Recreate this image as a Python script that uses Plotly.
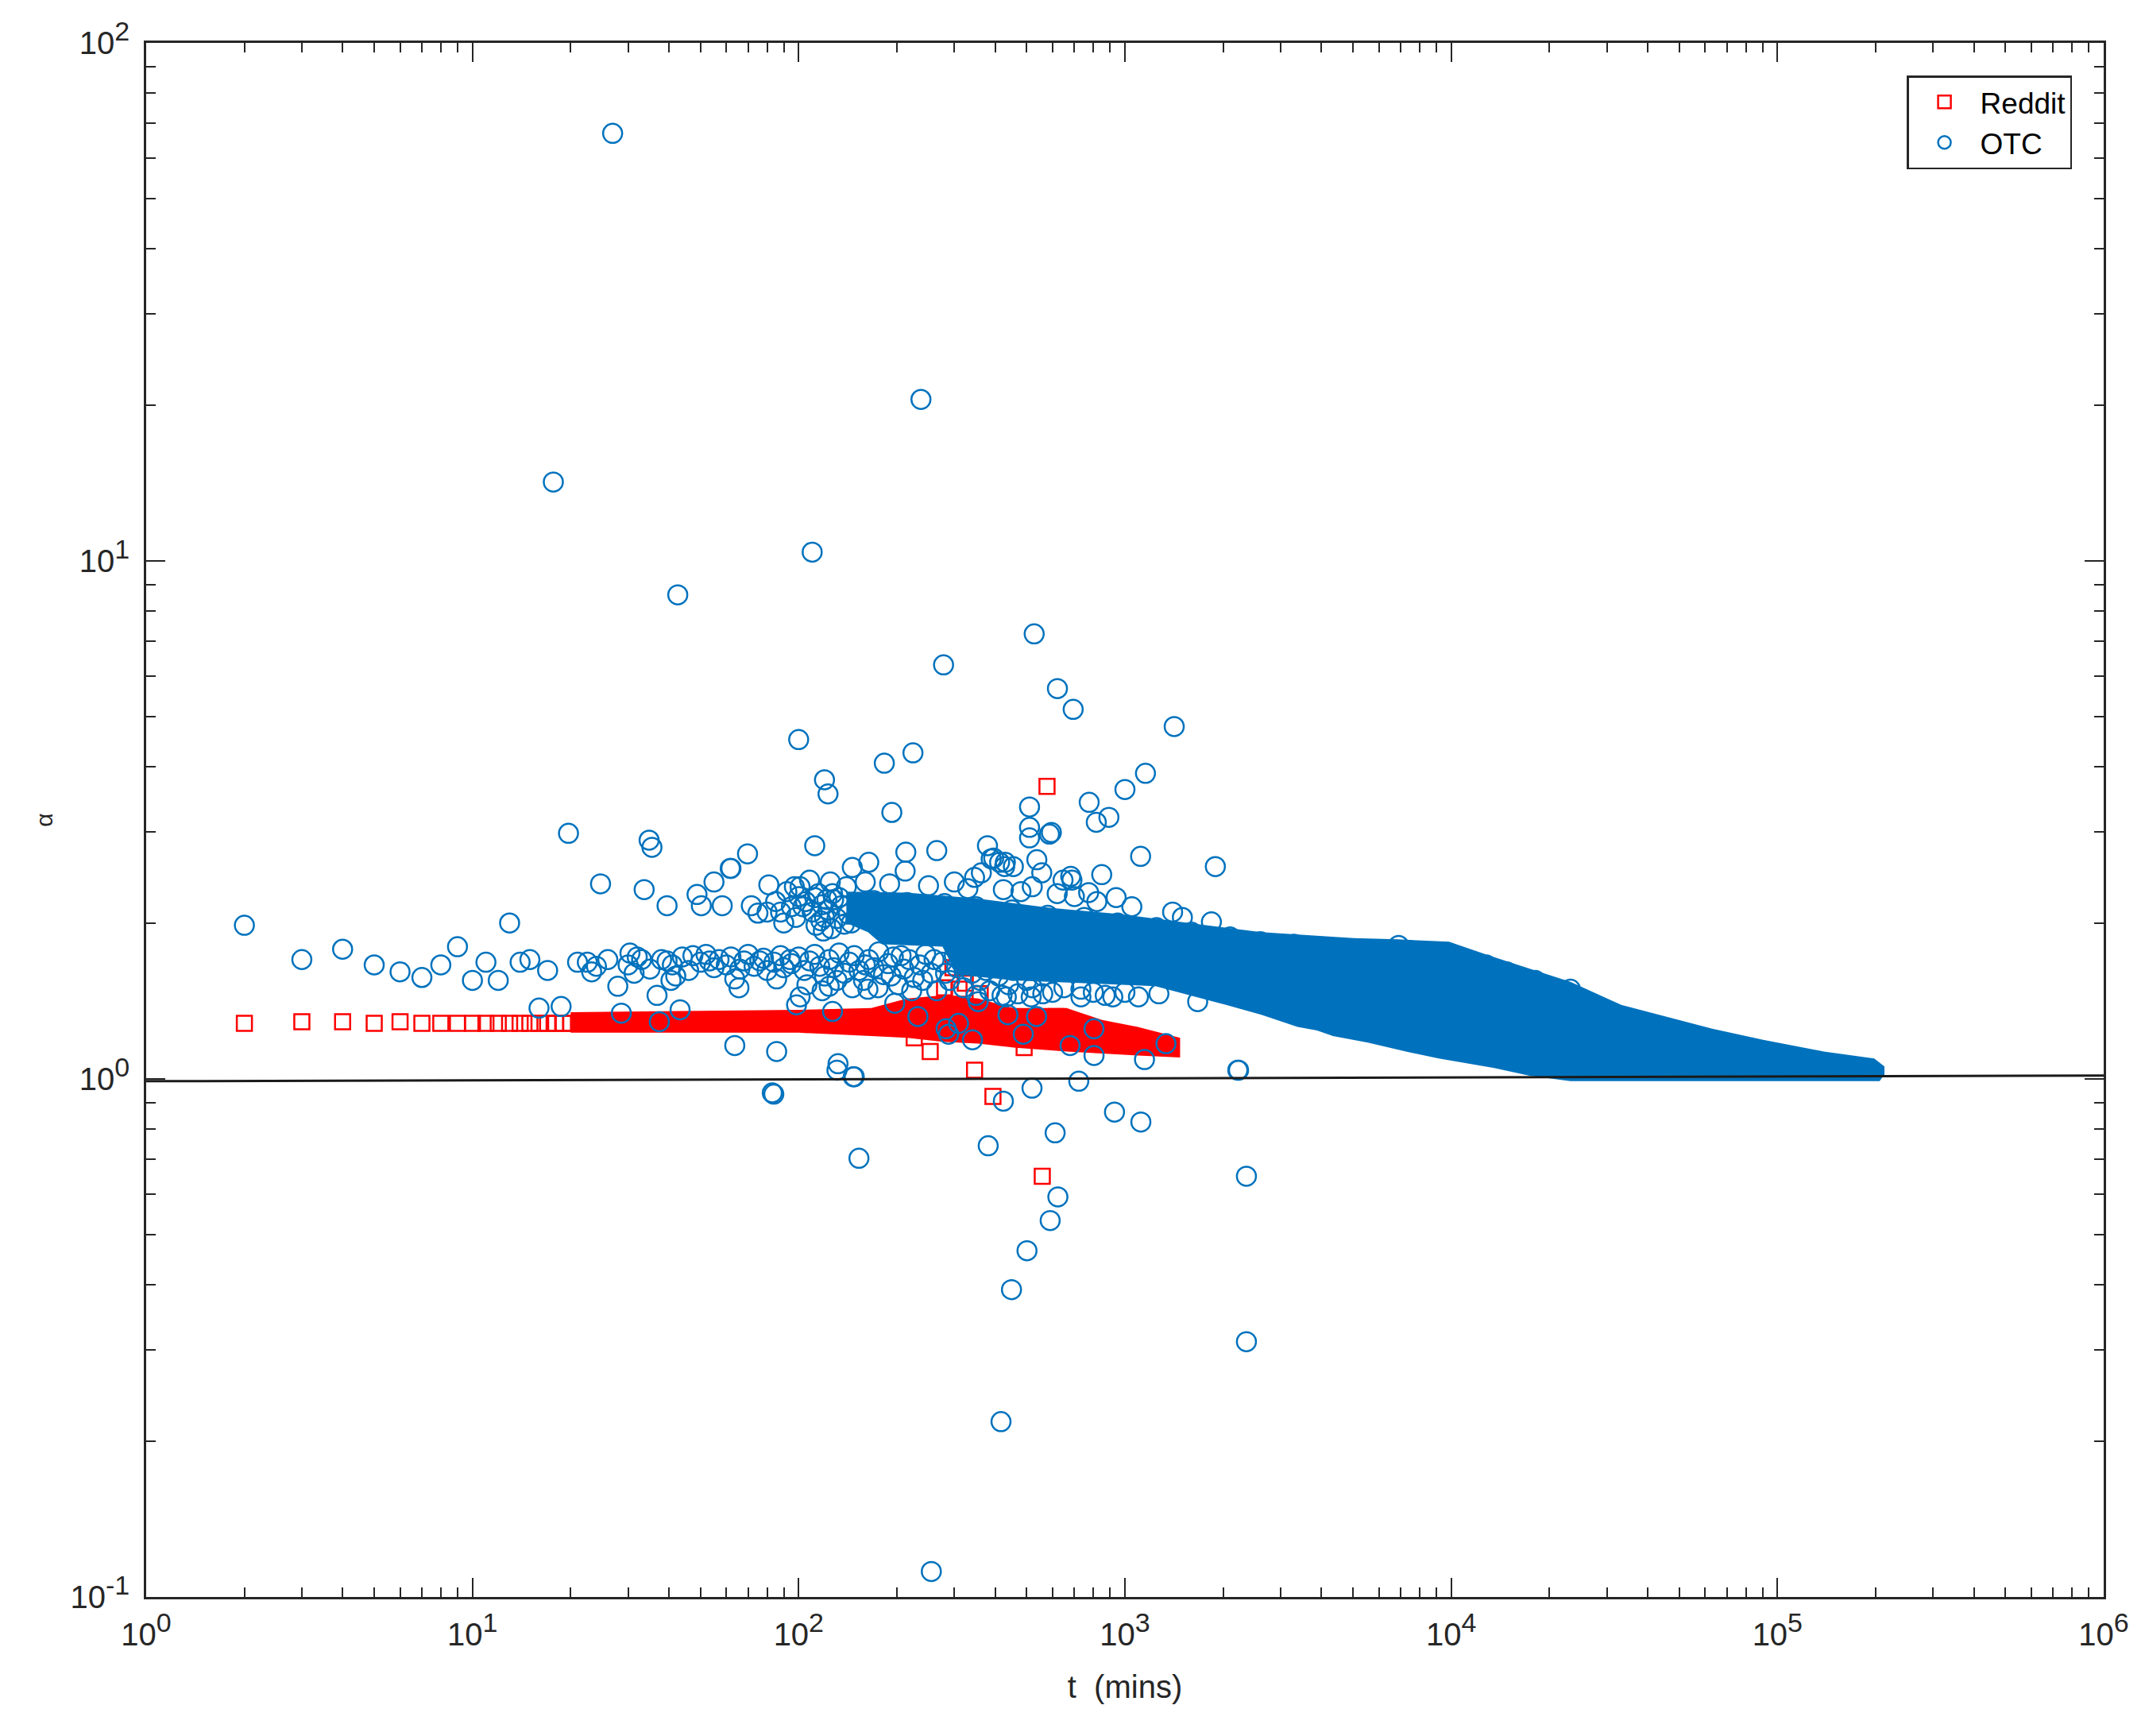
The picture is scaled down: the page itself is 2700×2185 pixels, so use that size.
import plotly.graph_objects as go

# --- Reddit (red squares) ---
reddit_t = [2, 3, 4, 5, 6, 7, 8, 9, 10, 11, 12, 13, 14, 15, 16, 17, 18, 19, 20]
reddit_alpha = [1.28, 1.29, 1.29, 1.28, 1.29, 1.28, 1.28, 1.28, 1.28, 1.28,
                1.28, 1.28, 1.28, 1.28, 1.28, 1.28, 1.28, 1.28, 1.28]
reddit_out_t = [253, 346, 394, 491, 577, 558, 324, 297, 226, 615, 280, 310, 360]
reddit_out_alpha = [1.13, 1.04, 0.925, 1.15, 3.67, 0.649, 1.53, 1.64, 1.20, 1.32, 1.50, 1.49, 1.46]

# dense part of the Reddit cloud (edges)
reddit_band_t = [20, 100, 167, 215, 276, 355, 455, 663, 851, 1094, 1476]
reddit_band_hi = [1.345, 1.36, 1.37, 1.43, 1.45, 1.43, 1.37, 1.37, 1.30, 1.26, 1.20]
reddit_band_lo = [1.228, 1.228, 1.21, 1.20, 1.18, 1.17, 1.15, 1.13, 1.12, 1.11, 1.10]

# --- OTC (blue circles) ---
otc_out_t = [26.9, 237, 17.7, 110, 42.6, 527, 278, 621, 694, 1416, 100, 224, 183, 1156,
             120, 123, 1000, 777, 510, 193, 893, 817, 510, 587, 595, 510, 19.7, 34.8, 35.5,
             69.7, 112, 1117, 1893, 379, 265, 213, 212, 164, 146, 62, 537, 430, 389, 849,
             682, 396, 428, 455, 346, 363, 413, 556, 646, 688, 424, 774, 940, 1841,
             24.7, 33.6, 39.5, 48.8, 50.3, 55, 58.3, 61.7, 71.6, 75, 81, 13, 2]
otc_out_alpha = [66.9, 20.5, 14.2, 10.4, 8.6, 7.23, 6.3, 5.67, 5.17, 4.79, 4.52, 4.26, 4.07, 3.89,
                 3.78, 3.55, 3.62, 3.42, 3.35, 3.27, 3.2, 3.13, 3.06, 2.97, 2.99, 2.92, 2.98, 2.89, 2.8,
                 2.72, 2.82, 2.69, 2.57, 2.82, 2.76, 2.74, 2.52, 2.62, 2.56, 2.55, 2.65, 2.62, 2.66, 2.48,
                 2.46, 2.67, 2.57, 2.57, 2.45, 2.5, 2.62, 2.5, 2.42, 2.42, 2.32, 2.29, 2.24, 2.01,
                 2.38, 2.32, 2.16, 2.27, 2.16, 2.40, 2.16, 2.55, 2.16, 2.09, 2.37, 2.0, 1.98]

otc_low_t = [3, 4, 5, 6, 7, 8, 9, 10, 11, 12, 14, 15, 16, 17, 18.7, 21, 22.5, 23.2, 24, 26,
             27.9, 28.6, 30.4, 31.3, 33, 36.8, 37.4, 39.5, 40.6, 42, 43.3, 47.4, 53.3, 63.7,
             65.6, 76, 85.6, 94, 98.5, 85.6, 63.7, 83]
otc_low_alpha = [1.70, 1.78, 1.66, 1.61, 1.57, 1.66, 1.80, 1.55, 1.68, 1.55, 1.68, 1.70, 1.37, 1.62,
                 1.38, 1.68, 1.68, 1.61, 1.65, 1.70, 1.51, 1.34, 1.75, 1.60, 1.70, 1.45, 1.29, 1.69,
                 1.55, 1.58, 1.36, 1.73, 1.69, 1.56, 1.50, 1.69, 1.56, 1.70, 1.39, 1.13, 1.16, 0.94]

otc_mid_t = [30, 32, 35, 38, 41, 44, 46, 50, 52, 55, 57, 60, 62, 66, 68, 70, 73, 78, 80, 84, 88,
             90, 95, 100, 104, 108, 112, 116, 120, 124, 128, 133, 138, 143, 148, 153, 158, 164,
             170, 176, 182, 188, 195, 202, 210, 218, 226, 235, 245, 255, 265, 275, 290, 305, 320,
             340, 360, 385, 410, 440, 470, 500, 106, 118, 131, 146, 160, 175, 192, 206, 222, 240,
             260, 282, 300, 330, 350, 375, 420, 455, 520, 560]
otc_mid_alpha = [1.66, 1.72, 1.63, 1.70, 1.66, 1.72, 1.62, 1.68, 1.74, 1.64, 1.70, 1.66, 1.72, 1.63,
                 1.69, 1.74, 1.65, 1.71, 1.62, 1.68, 1.73, 1.64, 1.67, 1.72, 1.62, 1.69, 1.74, 1.65,
                 1.58, 1.70, 1.64, 1.75, 1.60, 1.68, 1.73, 1.62, 1.55, 1.70, 1.64, 1.76, 1.59, 1.67,
                 1.72, 1.52, 1.63, 1.70, 1.57, 1.66, 1.74, 1.60, 1.48, 1.68, 1.55, 1.64, 1.50, 1.60,
                 1.55, 1.48, 1.58, 1.52, 1.46, 1.55, 1.52, 1.48, 1.55, 1.50, 1.66, 1.50, 1.58, 1.73,
                 1.48, 1.55, 1.70, 1.60, 1.73, 1.68, 1.45, 1.62, 1.45, 1.62, 1.50, 1.58]

otc_upper_t = [85, 88, 92, 95, 98, 90, 80, 100, 103, 97, 101, 105, 110, 115, 120, 125, 108, 118,
               113, 122, 140, 160, 190, 250, 300, 330, 480, 520, 620, 700, 820, 1050, 1400, 1500,
               128, 170, 215, 280, 350, 450, 580, 750, 950, 1250, 1600, 2100, 2600, 3300, 4200,
               5300, 6900, 7950, 9850, 12800, 14800, 18100, 23200,
               112, 117, 123, 127, 131, 135, 138, 142, 126, 133, 119, 145]
otc_upper_alpha = [2.2, 2.1, 2.3, 2.15, 2.05, 2.0, 2.1, 2.25, 2.15, 2.35, 2.35, 2.2, 2.1, 2.28, 2.05,
                   2.4, 2.42, 2.17, 1.98, 2.22, 2.35, 2.40, 2.38, 2.36, 2.40, 2.33, 2.30, 2.35, 2.28,
                   2.25, 2.20, 2.15, 2.10, 2.05, 2.22, 2.21, 2.19, 2.18, 2.15, 2.12, 2.07, 2.05, 2.0,
                   1.96, 1.92, 1.88, 1.84, 1.82, 1.79, 1.78, 1.81, 1.76, 1.75, 1.66, 1.61, 1.55, 1.49,
                   2.24, 2.02, 2.12, 2.28, 2.04, 2.16, 1.99, 2.08, 1.95, 2.24, 1.93, 2.00]

otc_under_t = [132, 148, 127, 232, 283, 288, 341, 309, 438, 488, 536, 679, 804, 804, 1148, 1336,
               2230, 355, 433, 516, 733, 733, 918, 1271, 1671, 197, 163, 124, 101, 800, 870, 1000,
               1100, 600, 650, 560, 83.9, 147, 131, 153, 381, 424, 519, 722, 929, 1119, 611, 623,
               590, 501, 449, 2357, 2357, 417, 255, 2218]
otc_under_alpha = [1.07, 1.01, 1.35, 1.32, 1.25, 1.22, 1.19, 1.28, 1.33, 1.22, 1.32, 1.16, 1.25, 1.11,
                   1.09, 1.17, 1.04, 1.41, 1.44, 1.44, 1.49, 1.44, 1.44, 1.46, 1.41, 1.40, 1.49, 1.51,
                   1.44, 1.47, 1.45, 1.47, 1.44, 1.47, 1.50, 1.46, 0.935, 1.01, 1.04, 0.703, 0.743,
                   0.906, 0.96, 0.99, 0.863, 0.826, 0.787, 0.592, 0.533, 0.466, 0.392, 0.649, 0.311,
                   0.218, 0.112, 1.04]

# dense part of the OTC cloud (edges)
otc_band_t_top = [140, 215, 354, 585, 964, 1590, 2620, 5030, 6870, 9840, 13100, 18100, 23200,
                  33200, 47400, 63100, 90400, 138700, 198000, 212800]
otc_band_hi = [2.30, 2.29, 2.23, 2.14, 2.08, 2.0, 1.92, 1.87, 1.86, 1.84, 1.73, 1.62, 1.54,
               1.39, 1.31, 1.25, 1.19, 1.13, 1.095, 1.057]
otc_band_t_bot = [140, 163, 180, 276, 305, 455, 750, 1240, 1590, 2040, 2620, 3380, 3880, 4340,
                  5550, 7400, 9160, 13550, 17400, 23200, 205600, 212800]
otc_band_lo = [2.0, 1.92, 1.82, 1.80, 1.59, 1.55, 1.53, 1.51, 1.45, 1.39, 1.33, 1.26, 1.24, 1.21,
               1.175, 1.127, 1.095, 1.05, 1.014, 0.99, 0.99, 1.02]

# reference line near alpha = 1
ref_t = [1, 1e6]
ref_alpha = [0.99, 1.015]

SUP = '<sup><span style="font-size:34px">{}</span></sup>'
x_tick_vals = [1, 10, 100, 1e3, 1e4, 1e5, 1e6]
x_tick_text = ['10' + SUP.format(k) for k in ['0', '1', '2', '3', '4', '5', '6']]
y_tick_vals = [0.1, 1, 10, 100]
y_tick_text = ['10' + SUP.format(k) for k in ['-1', '0', '1', '2']]

BLUE = '#0072BD'
RED = '#FF0000'
AXIS = '#262626'
FONT = 'Liberation Sans, Arial, sans-serif'

fig = go.Figure()

fig.add_trace(go.Scatter(
    x=reddit_band_t + reddit_band_t[::-1],
    y=reddit_band_hi + reddit_band_lo[::-1],
    mode='lines', fill='toself', fillcolor=RED,
    line=dict(width=0, color=RED), hoverinfo='skip', showlegend=False))

fig.add_trace(go.Scatter(
    x=reddit_t + reddit_out_t, y=reddit_alpha + reddit_out_alpha,
    mode='markers', name='Reddit',
    marker=dict(symbol='square-open', size=19, color=RED, line=dict(width=2.5))))

fig.add_trace(go.Scatter(
    x=otc_band_t_top + otc_band_t_bot[::-1],
    y=otc_band_hi + otc_band_lo[::-1],
    mode='lines', fill='toself', fillcolor=BLUE,
    line=dict(width=0, color=BLUE), hoverinfo='skip', showlegend=False))

fig.add_trace(go.Scatter(
    x=otc_out_t + otc_low_t + otc_mid_t + otc_upper_t + otc_under_t,
    y=otc_out_alpha + otc_low_alpha + otc_mid_alpha + otc_upper_alpha + otc_under_alpha,
    mode='markers', name='OTC',
    marker=dict(symbol='circle-open', size=24, color=BLUE, line=dict(width=2.5))))

fig.add_trace(go.Scatter(
    x=ref_t, y=ref_alpha, mode='lines',
    line=dict(color='#1a1a1a', width=3), hoverinfo='skip', showlegend=False))

minor_x = [m * 10 ** k for k in range(6) for m in range(2, 10)]
minor_y = [m * 10 ** k for k in range(-1, 2) for m in range(2, 10)]

axis_common = dict(
    type='log', showline=True, linecolor=AXIS, linewidth=2.5, mirror='allticks',
    ticks='inside', ticklen=24, tickwidth=2, tickcolor=AXIS,
    showgrid=False, zeroline=False,
    tickfont=dict(family=FONT, size=40, color=AXIS),
)

fig.update_xaxes(
    **axis_common, range=[0, 6], tickmode='array',
    tickvals=x_tick_vals, ticktext=x_tick_text, ticklabelstandoff=10,
    minor=dict(ticks='inside', ticklen=12, tickwidth=2, tickcolor=AXIS,
               tickmode='array', tickvals=minor_x, showgrid=False),
    title=dict(text='t&nbsp; (mins)', font=dict(family=FONT, size=40, color=AXIS), standoff=32),
)
fig.update_yaxes(
    **axis_common, range=[-1, 2], tickmode='array',
    tickvals=y_tick_vals, ticktext=y_tick_text, ticklabelstandoff=10,
    minor=dict(ticks='inside', ticklen=12, tickwidth=2, tickcolor=AXIS,
               tickmode='array', tickvals=minor_y, showgrid=False),
    title=dict(text='α', font=dict(family=FONT, size=30, color=AXIS), standoff=14),
)

fig.update_layout(
    width=2700, height=2185, autosize=False,
    margin=dict(l=176, r=60, t=43, b=183),
    paper_bgcolor='white', plot_bgcolor='white',
    font=dict(family=FONT, color=AXIS),
    legend=dict(
        x=0.9838, y=0.979, xanchor='right', yanchor='top',
        bgcolor='white', bordercolor=AXIS, borderwidth=2.5,
        font=dict(family=FONT, size=37, color='black'),
        itemwidth=80,
    ),
)

fig.write_html("out.html")
